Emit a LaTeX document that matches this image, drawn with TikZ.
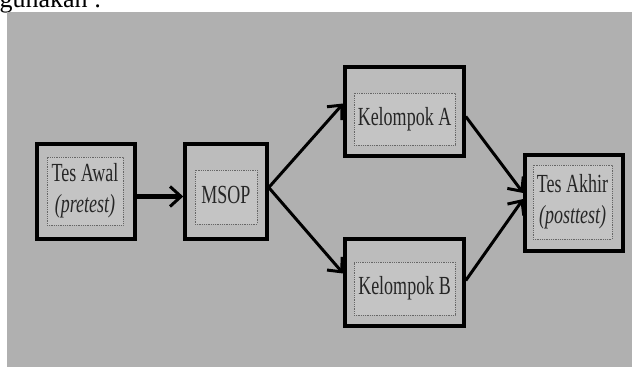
\documentclass[tikz,border=0pt]{standalone}
\usepackage{fontspec}
\setmainfont{Liberation Serif}
\usepackage{tikz}
\usetikzlibrary{arrows,arrows.meta,positioning}
\definecolor{panelgray}{RGB}{176,176,176}
\definecolor{boxgray}{RGB}{188,188,188}
\definecolor{innergray}{RGB}{196,196,196}
\definecolor{inkgray}{RGB}{38,38,38}
\newcommand{\stagetext}[1]{\scalebox{1}[1.45]{\begin{tabular}{@{}c@{}}#1\end{tabular}}}
\tikzset
{
    stagebox/.style = {rectangle, draw=black, fill=boxgray, line width=3.5pt, inner sep=0pt},
    textbox/.style  = {rectangle, draw=black!60, fill=innergray, densely dotted, line width=0.8pt, inner sep=0pt, align=center, text=inkgray, font=\fontsize{18}{21.6}\selectfont},
    flow/.style     = {line width=3pt, -{Straight Barb[length=11pt,width=20pt,line width=3pt]}}
}

\begin{document}
\begin{tikzpicture}[x=1pt, y=-1pt]
    \useasboundingbox (0,0) rectangle (638,367);
    \node [anchor=base west, font=\fontsize{26}{30}\selectfont] (caption) at (-4,7) {gunakan :};
    \fill [panelgray] (7,12) rectangle (632,367);

    \node [stagebox, minimum width=98pt, minimum height=95pt] (awal) at (86,191.5) {};
    \node [stagebox, minimum width=82pt, minimum height=95pt] (msop) at (226,191.5) {};
    \node [stagebox, minimum width=119pt, minimum height=89pt] (kelA) at (404.5,111.5) {};
    \node [stagebox, minimum width=119pt, minimum height=87pt] (kelB) at (404.5,282.5) {};
    \node [stagebox, minimum width=98pt, minimum height=96pt] (akhir) at (574,203) {};

    \node [textbox, minimum width=76pt, minimum height=68pt] (awalT) at (85,191) {\stagetext{Tes Awal\\ \textit{(pretest)}}};
    \node [textbox, minimum width=62pt, minimum height=54pt] (msopT) at (226,197) {\stagetext{MSOP}};
    \node [textbox, minimum width=101pt, minimum height=52pt] (kelAT) at (404.5,119) {\stagetext{Kelompok A}};
    \node [textbox, minimum width=101pt, minimum height=53pt] (kelBT) at (404.5,288.5) {\stagetext{Kelompok B}};
    \node [textbox, minimum width=79pt, minimum height=74pt] (akhirT) at (572.5,202) {\stagetext{Tes Akhir\\ \textit{(posttest)}}};

    \draw [flow, line width=4.5pt] ([yshift=-5pt]awal.east) -- ([yshift=-5pt]msop.west);
    \draw [flow] ([yshift=4pt]msop.east) -- ([yshift=8pt]kelA.west);
    \draw [flow] ([yshift=4pt]msop.east) -- ([yshift=9pt]kelB.west);
    \draw [flow] ([yshift=-5pt]kelA.east) -- ([yshift=10pt]akhir.west);
    \draw [flow] ([yshift=2pt]kelB.east) -- ([yshift=4pt]akhir.west);
\end{tikzpicture}
\end{document}
